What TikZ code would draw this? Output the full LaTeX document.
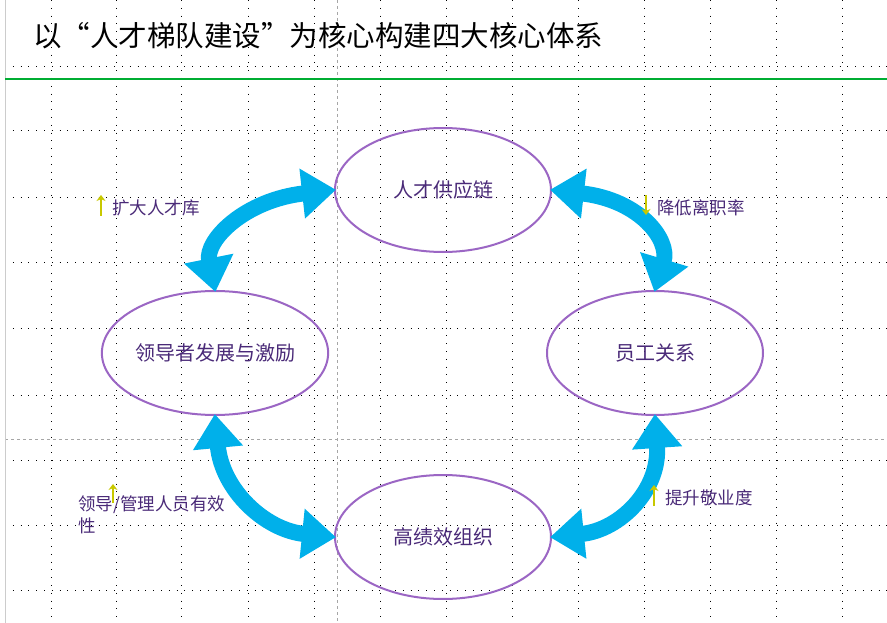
\documentclass[tikz,border=0pt]{standalone}
\usepackage{fontspec}
\setmainfont{Noto Sans CJK SC}
\usetikzlibrary{arrows.meta,shapes.geometric}
\definecolor{pur}{HTML}{9B66C4}
\definecolor{cy}{HTML}{00B0EA}
\definecolor{txt}{HTML}{4A2A78}
\definecolor{yl}{HTML}{C8C800}
\begin{document}
\begin{tikzpicture}[x=1pt,y=-1pt,
  ell/.style={draw=pur,line width=2pt,ellipse,minimum width=216pt,minimum height=124pt,inner sep=0pt,font=\fontsize{20}{24}\selectfont,text=txt},
  big/.style={cy,line width=16pt,{Triangle[width=48pt,length=34pt]}-{Triangle[width=48pt,length=34pt]},shorten <=-2pt,shorten >=-2pt},
  lab/.style={font=\fontsize{17.5}{22}\selectfont,text=txt,anchor=west,inner sep=0pt},
  up/.style={yl,line width=2pt,-{Stealth[length=6pt,width=9pt]}}]
\useasboundingbox (0,0) rectangle (887,623);
\fill[white] (0,0) rectangle (887,623);
% grid
\foreach \x in {51,116,181,248,314,380,446,512,578,644,710,776,842}
  \draw[black,line width=0.8pt,dash pattern=on 0.8pt off 7pt] (\x,0) -- (\x,623);
\foreach \y in {66,130,197,262,328,395,460,525,590}
  \draw[black,line width=0.8pt,dash pattern=on 0.8pt off 7pt] (5,\y) -- (887,\y);
\draw[gray!70,dashed,line width=0.6pt] (337,0) -- (337,623);
\draw[gray!70,dashed,line width=0.6pt] (5,439) -- (887,439);
\draw[gray!40,line width=0.8pt] (5,0) -- (5,623);
\node[anchor=west,inner sep=0pt,font=\fontsize{28.5}{32}\selectfont] (title) at (33,36) {以“人才梯队建设”为核心构建四大核心体系};
\draw[green!60!black!80!cyan,line width=1.5pt] (5,79) -- (887,79);
% ellipses
\node[ell] (t) at (443,190) {人才供应链};
\node[ell] (l) at (215,353) {领导者发展与激励};
\node[ell] (r) at (655,353) {员工关系};
\node[ell] (b) at (443,537) {高绩效组织};
% arrows
\draw[big] (t.west) .. controls (245,200) and (205,240) .. (l.north);
\draw[big] (t.east) .. controls (640,200) and (670,240) .. (r.north);
\draw[big] (l.south) .. controls (222,490) and (265,530) .. (b.west);
\draw[big] (r.south) .. controls (660,490) and (620,530) .. (b.east);
% labels
\node[lab] (a1) at (112,208) {扩大人才库};
\coordinate (a1s) at (101,216); \coordinate (a1e) at (101,195);
\draw[up] (a1s) -- (a1e);
\node[lab] (a2) at (657,208) {降低离职率};
\coordinate (a2s) at (646,195); \coordinate (a2e) at (646,215);
\draw[up] (a2s) -- (a2e);
\node[lab] (a3) at (665,498) {提升敬业度};
\coordinate (a3s) at (654,506); \coordinate (a3e) at (654,485);
\draw[up] (a3s) -- (a3e);
\node[lab,align=left,anchor=north west] (a4) at (78,496) {领导/管理人员有效\\性};
\coordinate (a4s) at (113,503); \coordinate (a4e) at (113,484);
\draw[up] (a4s) -- (a4e);
\end{tikzpicture}
\end{document}
